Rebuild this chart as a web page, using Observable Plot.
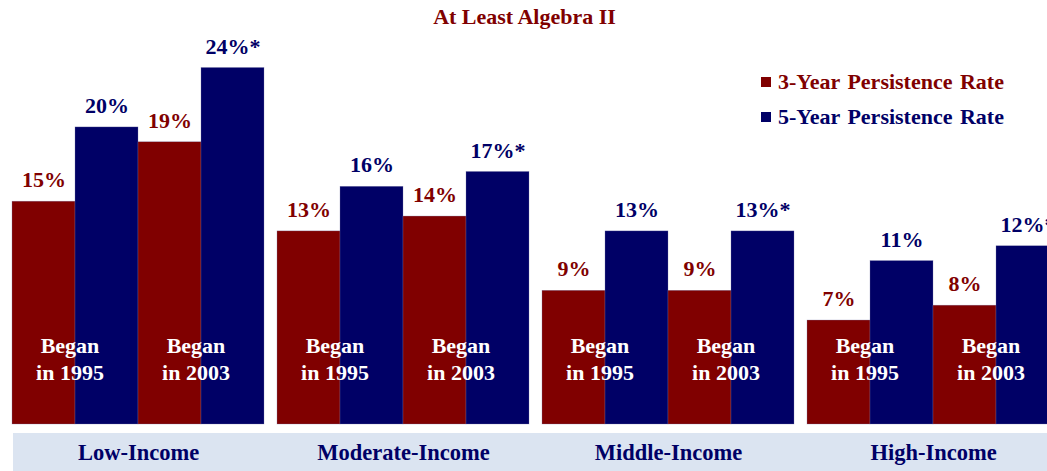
<!DOCTYPE html>
<html>
<head>
<meta charset="utf-8">
<script src="https://cdn.jsdelivr.net/npm/d3@7"></script>
<script src="https://cdn.jsdelivr.net/npm/@observablehq/plot@0.6"></script>
<style>
  html, body { margin: 0; padding: 0; background: #fff; overflow: hidden; }
  #wrap { position: relative; width: 1047px; height: 471px; overflow: hidden; font-family: 'Liberation Serif', 'Times New Roman', serif; }
  #title { position: absolute; left: 0; width: 1047px; top: 4px; text-align: center; font-weight: bold; font-size: 22px; color: #800000; z-index: 2; padding-left: 2px; box-sizing: border-box; }
  #legend { position: absolute; left: 761px; top: 64px; z-index: 2; font-weight: bold; font-size: 22px; word-spacing: 2px; }
  .li { display: flex; align-items: center; height: 35px; }
  .sw { width: 10px; height: 10px; margin-right: 7px; }
  #chart { position: absolute; left: 0; top: 0; width: 1059px; }
  #chart svg { max-width: none !important; }
</style>
</head>
<body>
<div id="wrap">
  <div id="title">At Least Algebra II</div>
  <div id="legend"></div>
  <div id="chart"></div>
</div>
<script>
const groups = ["Low-Income", "Moderate-Income", "Middle-Income", "High-Income"];
const cohorts = ["Began\nin 1995", "Began\nin 2003"];
const seriesNames = ["3-Year Persistence Rate", "5-Year Persistence Rate"];
const seriesColors = ["#800000", "#000066"];
// values per group: [1995 3-yr, 1995 5-yr, 2003 3-yr, 2003 5-yr]
const rate3yr1995 = [15, 13, 9, 7];
const rate5yr1995 = [20, 16, 13, 11];
const rate3yr2003 = [19, 14, 9, 8];
const rate5yr2003 = [24, 17, 13, 12];
const significant2003 = [true, true, true, true]; // asterisk on 2003 5-year rates

const rows = [];
groups.forEach((g, i) => {
  const vals = [
    [cohorts[0], 0, rate3yr1995[i], false],
    [cohorts[0], 1, rate5yr1995[i], false],
    [cohorts[1], 0, rate3yr2003[i], false],
    [cohorts[1], 1, rate5yr2003[i], significant2003[i]]
  ];
  vals.forEach(([c, s, v, star]) => {
    rows.push({group: g, cohort: c, series: seriesNames[s], key: c + "|" + s, value: v, label: v + "%" + (star ? "*" : "")});
  });
});
const xKeys = rows.slice(0, 4).map(d => d.key);
const cohortRows = [];
groups.forEach(g => cohorts.forEach(c => cohortRows.push({group: g, cohort: c, key: c + "|0"})));

const font = "'Liberation Serif', 'Times New Roman', serif";

const chart = Plot.plot({
  width: 1059,
  height: 471,
  marginLeft: 12,
  marginRight: 0,
  marginTop: 67.5,
  marginBottom: 47,
  style: {fontFamily: font, background: "transparent", overflow: "visible", maxWidth: "none"},
  fx: {domain: groups, paddingInner: 13 / 265, paddingOuter: 0, axis: null},
  x: {domain: xKeys, padding: 0, axis: null},
  y: {domain: [0, 24], axis: null},
  color: {domain: seriesNames, range: seriesColors},
  marks: [
    Plot.rect(groups.slice(0, 1), {fx: d => d, y1: 0, y2: 0, insetTop: 9, insetBottom: -47, insetLeft: 1, fill: "#dbe4f1"}),
    Plot.rect(groups.slice(1), {fx: d => d, y1: 0, y2: 0, insetTop: 9, insetBottom: -47, insetLeft: -13, fill: "#dbe4f1"}),
    Plot.barY(rows, {fx: "group", x: "key", y: "value", fill: "series", stroke: "#7777a8", strokeWidth: 0.5, strokeOpacity: 0.6}),
    Plot.text(rows, {fx: "group", x: "key", y: "value", text: "label", fill: "series", dy: -21.5, lineAnchor: "middle", fontSize: 22, fontWeight: "bold", fontFamily: font}),
    Plot.text(cohortRows, {fx: "group", x: "key", y: d => 0, text: "cohort", fill: "white", dx: 26, dy: -67, lineAnchor: "middle", lineHeight: 1.22, fontSize: 22, fontWeight: "bold", fontFamily: font}),
    Plot.text(groups, {fx: d => d, text: d => d, frameAnchor: "bottom", dy: 28, lineAnchor: "middle", fill: "#000066", fontSize: 22.5, fontWeight: "bold", fontFamily: font})
  ]
});
document.getElementById("chart").appendChild(chart);

const legend = document.getElementById("legend");
seriesNames.forEach((n, i) => {
  const row = document.createElement("div");
  row.className = "li";
  row.innerHTML = `<span class="sw" style="background:${seriesColors[i]}"></span><span style="color:${seriesColors[i]}">${n}</span>`;
  legend.appendChild(row);
});
</script>
</body>
</html>
